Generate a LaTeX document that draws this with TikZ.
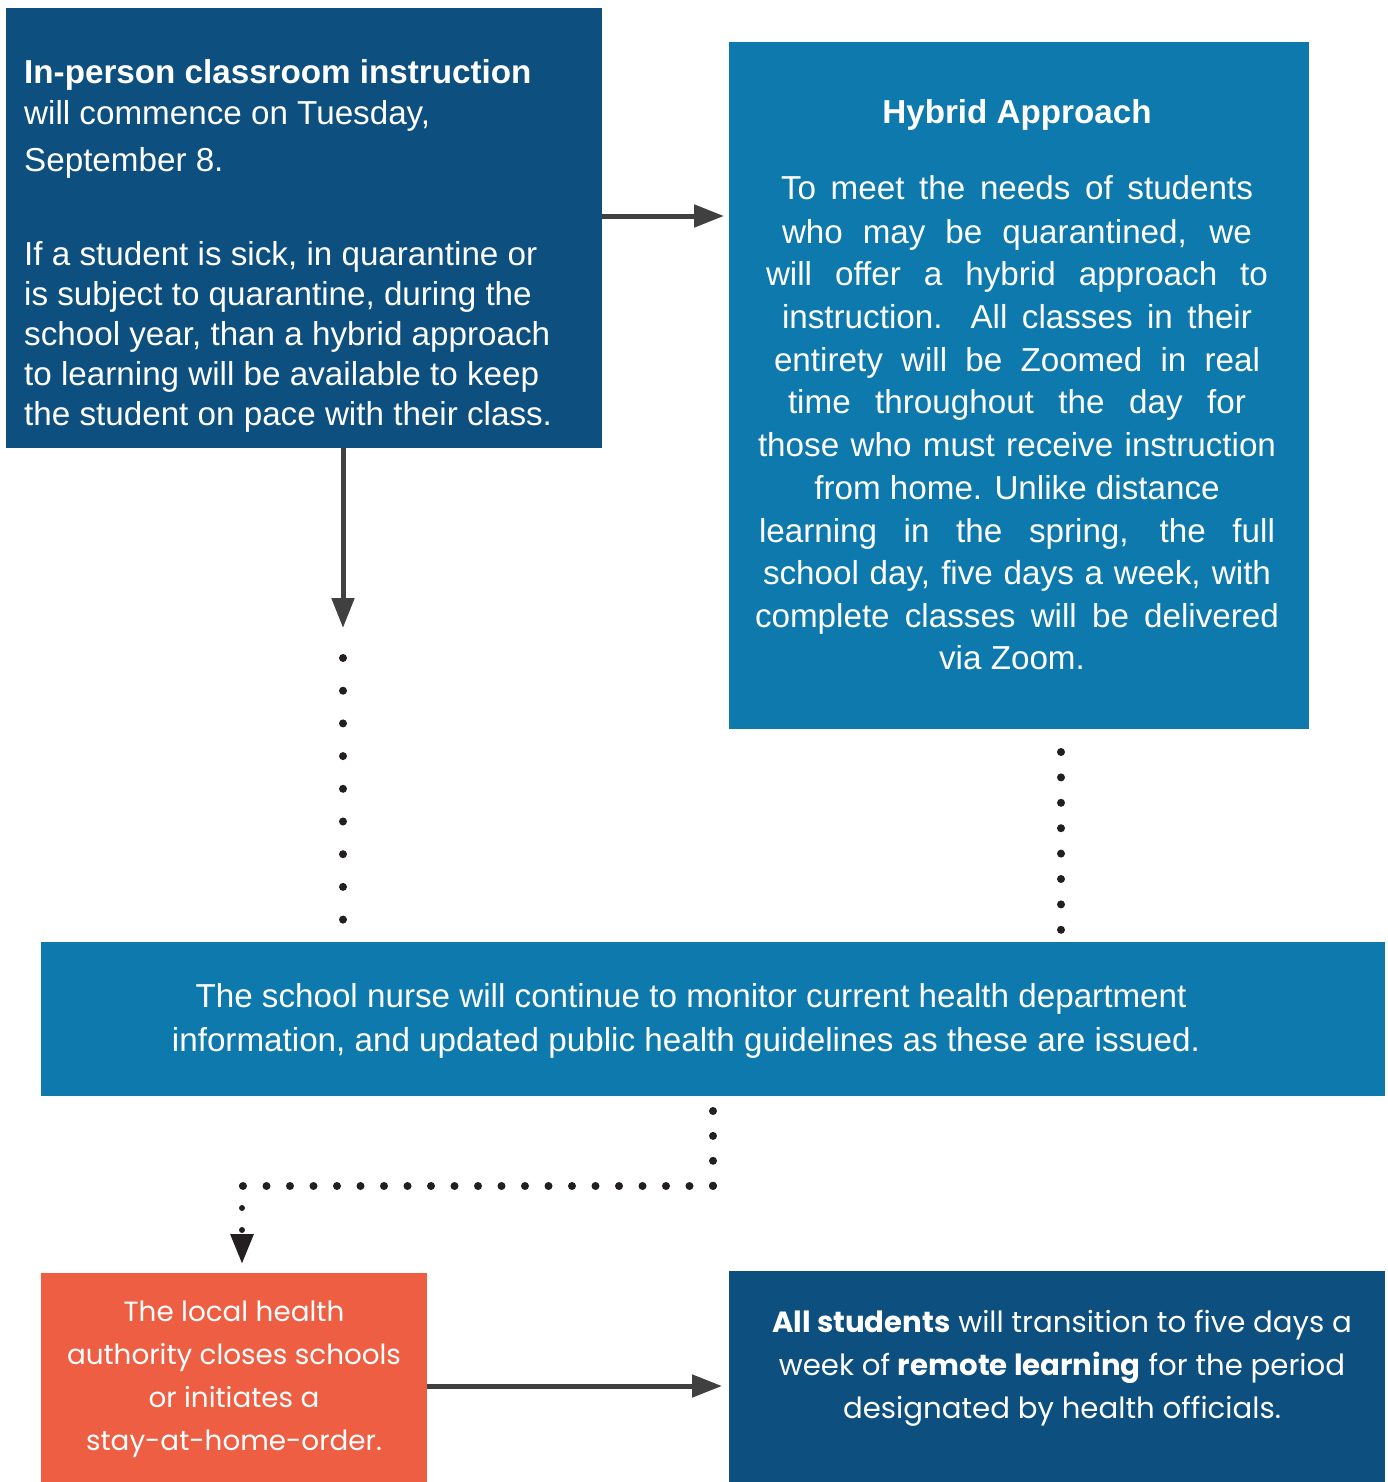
\documentclass[tikz,border=0pt]{standalone}
\usepackage{fontspec}
\setmainfont{Liberation Sans}
\newfontfamily\geo{Poppins}
\usetikzlibrary{arrows.meta}
\definecolor{navy}{HTML}{0D4F7E}
\definecolor{myteal}{HTML}{0E79AD}
\definecolor{orng}{HTML}{EE5E43}
\definecolor{arrgray}{HTML}{404040}
\definecolor{dotblk}{HTML}{231F20}
\begin{document}
\begin{tikzpicture}[x=1pt,y=-1pt,
  panel/.style={anchor=north west, inner sep=0pt, outer sep=0pt, draw=none},
  tx/.style={text=white, inner sep=0pt, font=\fontsize{33.2}{40}\selectfont},
  tgd/.style={text=white, inner sep=0pt, font=\geo\fontsize{27.8}{40}\selectfont},
  tge/.style={text=white, inner sep=0pt, font=\geo\fontsize{29.2}{40}\selectfont},
  tip/.style={-{Triangle[length=30pt,width=22pt]}},
  arr/.style={draw=arrgray, line width=5pt, tip},
  dotline/.style={draw=dotblk, line width=8pt, line cap=round, dash pattern=on 0pt off #1},
  smalldots/.style={draw=dotblk, line width=6pt, line cap=round, dash pattern=on 0pt off 22pt, tip}
]
\useasboundingbox (0,0) rectangle (1387,1482);

% panels
\node[panel, fill=navy,   minimum width=596pt,  minimum height=440pt] (A) at (6,8) {};
\node[panel, fill=myteal, minimum width=580pt,  minimum height=687pt] (B) at (729,42) {};
\node[panel, fill=myteal, minimum width=1344pt, minimum height=154pt] (C) at (41,942) {};
\node[panel, fill=orng,   minimum width=386pt,  minimum height=209pt] (D) at (41,1273) {};
\node[panel, fill=navy,   minimum width=656pt,  minimum height=211pt] (E) at (729,1271) {};

% text of A
\node[tx, anchor=base west] (a1) at (24,84)  {\textbf{In-person classroom instruction}};
\node[tx, anchor=base west] (a2) at (24,125) {will commence on Tuesday,};
\node[tx, anchor=base west] (a3) at (24,172) {September 8.};
\node[tx, anchor=base west] (a4) at (24,265) {If a student is sick, in quarantine or};
\node[tx, anchor=base west] (a5) at (24,305) {is subject to quarantine, during the};
\node[tx, anchor=base west] (a6) at (24,345) {school year, than a hybrid approach};
\node[tx, anchor=base west] (a7) at (24,385) {to learning will be available to keep};
\node[tx, anchor=base west] (a8) at (24,425) {the student on pace with their class.};

% text of B
\node[tx, anchor=base] (b0)  at (1017,124) {\textbf{Hybrid Approach}};
\node[tx, anchor=base] (b1)  at (1017,200) {\makebox[472pt][s]{To meet the needs of students}};
\node[tx, anchor=base] (b2)  at (1017,243) {\makebox[470pt][s]{who may be quarantined, we}};
\node[tx, anchor=base] (b3)  at (1017,285) {\makebox[502pt][s]{will offer a hybrid approach to}};
\node[tx, anchor=base] (b4)  at (1017,328) {\makebox[470pt][s]{instruction. All classes in their}};
\node[tx, anchor=base] (b5)  at (1017,371) {\makebox[486pt][s]{entirety will be Zoomed in real}};
\node[tx, anchor=base] (b6)  at (1017,413) {\makebox[458pt][s]{time throughout the day for}};
\node[tx, anchor=base] (b7)  at (1017,456) {\makebox[518pt][s]{those who must receive instruction}};
\node[tx, anchor=base] (b8)  at (1017,499) {from home. Unlike distance};
\node[tx, anchor=base] (b9)  at (1017,542) {\makebox[516pt][s]{learning in the spring, the full}};
\node[tx, anchor=base] (b10) at (1017,584) {\makebox[508pt][s]{school day, five days a week, with}};
\node[tx, anchor=base] (b11) at (1017,627) {\makebox[524pt][s]{complete classes will be delivered}};
\node[tx, anchor=base] (b12) at (1012,669) {via Zoom.};

% text of C
\node[tx, anchor=base] (c1) at (691,1007) {The school nurse will continue to monitor current health department};
\node[tx, anchor=base] (c2) at (686,1051) {information, and updated public health guidelines as these are issued.};

% text of D
\node[tgd, anchor=base] (d1) at (234,1321) {The local health};
\node[tgd, anchor=base] (d2) at (234,1364) {authority closes schools};
\node[tgd, anchor=base] (d3) at (234,1407) {or initiates a};
\node[tgd, anchor=base] (d4) at (234,1450) {stay-at-home-order.};

% text of E
\node[tge, anchor=base] (e1) at (1062,1332) {\textbf{All students} will transition to five days a};
\node[tge, anchor=base] (e2) at (1062,1375) {week of \textbf{remote learning} for the period};
\node[tge, anchor=base] (e3) at (1062,1418) {designated by health officials.};

% connectors
\draw[arr, shorten >=5pt] ([yshift=12pt]A.east) -- ([yshift=12pt]A.east -| B.west);

\coordinate (dtip) at (343,628);
\draw[arr] (A.south -| dtip) -- (dtip);

\coordinate (l1) at (343,658);
\coordinate (l2) at (343,920);
\draw[dotline=32.7pt] (l1) -- (l2);

\coordinate (r1) at (1061,752);
\coordinate (r2) at (1061,930);
\draw[dotline=25.4pt] (r1) -- (r2);

\coordinate (m1) at (713,1111);
\coordinate (m2) at (713,1186);
\coordinate (m3) at (242,1186);
\coordinate (m4) at (242,1264);
\draw[dotline=24.9pt] (m1) -- (m2);
\draw[dotline=23.5pt] (m2) -- (m3);
\draw[smalldots] (m3) -- (m4);

\coordinate (btip) at (722,1386);
\draw[arr] (D.east |- btip) -- (btip);
\end{tikzpicture}
\end{document}
